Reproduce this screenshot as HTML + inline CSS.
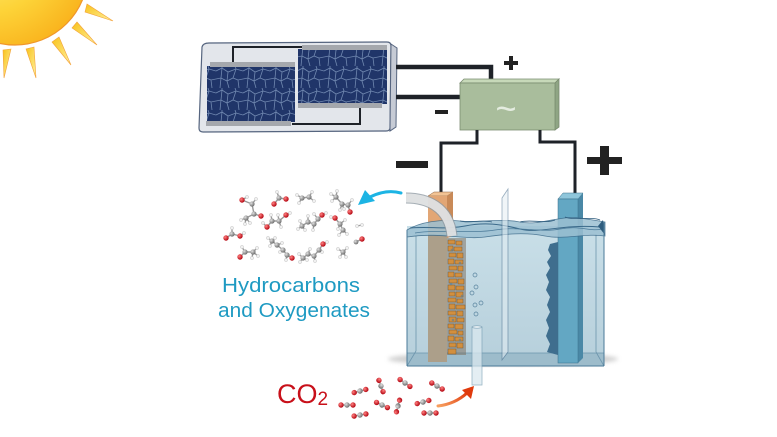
<!DOCTYPE html>
<html><head><meta charset="utf-8"><style>
html,body{margin:0;padding:0;background:#fff}
body{width:777px;height:437px;overflow:hidden}
svg{display:block}
.b{stroke:#9a9a9a;stroke-width:1.4;fill:none}
.c{fill:url(#gC)}.o{fill:url(#gO)}.h{fill:#f0f0f0;stroke:#b5b5b5;stroke-width:.4}
</style></head><body>
<svg width="777" height="437" viewBox="0 0 777 437" xmlns="http://www.w3.org/2000/svg">
<defs>
<radialGradient id="sun" cx="0.3" cy="0.3" r="0.8"><stop offset="0" stop-color="#fff48a"/><stop offset="0.6" stop-color="#fdd338"/><stop offset="1" stop-color="#f9b21c"/></radialGradient>
<linearGradient id="ray" x1="0" y1="0" x2="1" y2="1"><stop offset="0" stop-color="#f8c21a"/><stop offset="1" stop-color="#fff2a0"/></linearGradient>
<radialGradient id="gC" cx="0.35" cy="0.35" r="0.7"><stop offset="0" stop-color="#e0e0e0"/><stop offset="1" stop-color="#6a6a6a"/></radialGradient>
<radialGradient id="gO" cx="0.35" cy="0.35" r="0.7"><stop offset="0" stop-color="#ff8080"/><stop offset="1" stop-color="#b0000c"/></radialGradient>
<pattern id="cr" width="27" height="22" patternUnits="userSpaceOnUse">
<rect width="27" height="22" fill="#203569"/>
<path d="M0,5 L6,2 L12,6 L20,3 L27,5 M6,2 L6,0 M20,3 L19,0 M0,13 L5,12 L11,15 L17,12 L22,14 L27,13 M6,2 L5,12 M12,6 L11,15 M20,3 L17,12 M5,12 L4,22 M11,15 L13,22 M22,14 L23,22 M17,12 L22,14 M11,15 L17,12" stroke="#7088b0" stroke-width="0.8" fill="none"/>
</pattern>
<linearGradient id="water" x1="0" y1="0" x2="0" y2="1"><stop offset="0" stop-color="#c9dfe8"/><stop offset="1" stop-color="#b6cfdb"/></linearGradient>
<linearGradient id="oarr" x1="0" y1="1" x2="1" y2="0"><stop offset="0" stop-color="#f7a060"/><stop offset="1" stop-color="#e03a0c"/></linearGradient>
<filter id="blur"><feGaussianBlur stdDeviation="2"/></filter>
</defs>

<!-- Sun -->
<circle cx="15" cy="-28" r="73" fill="url(#sun)" stroke="#f0962a" stroke-width="1.2"/>
<g fill="url(#ray)" stroke="#f3a33a" stroke-width="0.6">
<polygon points="87,4 85,12 113,21"/>
<polygon points="77,22 72,28 97,45"/>
<polygon points="59,37 52,42 71,65"/>
<polygon points="34,47 26,49 36,78"/>
<polygon points="11,49 3,50 4,78"/>
</g>

<!-- Solar panel -->
<path d="M209,43 L387,42 Q391,42 391,46 L390,128 Q390,131 386,131 L203,132 Q199,132 199,128 L202,47 Q203,43 209,43 Z" fill="#e3e6eb" stroke="#56657f" stroke-width="1.2"/>
<polygon points="391,44 397,48 396,127 390,131" fill="#c6cbd5" stroke="#56657f" stroke-width="1"/>
<path d="M233,62 L233,47 L303,47" stroke="#1e2228" stroke-width="2" fill="none"/>
<path d="M292,124 L360,124 L360,108" stroke="#1e2228" stroke-width="2" fill="none"/>
<rect x="207" y="66" width="88" height="56" fill="url(#cr)"/>
<rect x="210" y="62" width="85" height="5" fill="#a5a8ad"/>
<rect x="206" y="121" width="85" height="5" fill="#a5a8ad"/>
<rect x="298" y="49" width="89" height="55" fill="url(#cr)"/>
<rect x="302" y="45" width="85" height="5" fill="#a5a8ad"/>
<rect x="298" y="103" width="84" height="5" fill="#a5a8ad"/>

<!-- wires panel->inverter -->
<path d="M396,67 L491,67 L491,80" stroke="#1e2228" stroke-width="4.5" fill="none"/>
<path d="M396,97 L462,97" stroke="#1e2228" stroke-width="4.5" fill="none"/>

<!-- Inverter -->
<polygon points="460,83 464,79 559,79 555,83" fill="#c7d9b9" stroke="#7a8c70" stroke-width="0.8"/>
<polygon points="555,83 559,79 559,127 555,130" fill="#8fa584" stroke="#7a8c70" stroke-width="0.8"/>
<rect x="460" y="83" width="95" height="47" fill="#a9bd9c" stroke="#7a8c70" stroke-width="0.8"/>
<text x="506" y="121" font-family="Liberation Sans, sans-serif" font-size="36" fill="#e4ece0" text-anchor="middle">~</text>
<rect x="504" y="61" width="14" height="4" fill="#222"/><rect x="509" y="56" width="4" height="14" fill="#222"/>
<rect x="435" y="110" width="13" height="4" fill="#222"/>

<!-- wires inverter->electrodes -->
<path d="M477,130 L477,143 L441,143 L441,194" stroke="#1e2228" stroke-width="3" fill="none"/>
<path d="M540,130 L540,142 L575,142 L575,195" stroke="#1e2228" stroke-width="3" fill="none"/>

<!-- big signs -->
<rect x="396" y="161" width="32" height="7" fill="#222"/>
<rect x="587" y="157" width="35" height="7" fill="#222"/><rect x="600" y="146" width="9" height="29" fill="#222"/>

<!-- tank shadow -->
<ellipse cx="503" cy="359" rx="115" ry="7" fill="#c4c4c4" filter="url(#blur)" opacity="0.8"/>

<!-- tank body -->
<rect x="407" y="226" width="197" height="140" fill="url(#water)"/>
<polygon points="407,353 604,353 604,366 407,366" fill="#9dbccb"/>
<line x1="407" y1="353" x2="604" y2="353" stroke="#6d96ad" stroke-width="0.8"/>
<line x1="416" y1="236" x2="416" y2="351" stroke="#6d96ad" stroke-width="0.8"/>
<line x1="596" y1="234" x2="596" y2="352" stroke="#6d96ad" stroke-width="0.8"/>
<line x1="407" y1="366" x2="416" y2="351" stroke="#6d96ad" stroke-width="0.8"/>
<line x1="604" y1="366" x2="596" y2="352" stroke="#6d96ad" stroke-width="0.8"/>

<!-- jagged deposit near right electrode -->
<path d="M558,242 L550,244 L548,250 L551,256 L547,262 L550,268 L546,275 L549,282 L546,290 L550,297 L547,305 L550,312 L546,320 L549,328 L546,336 L550,344 L547,352 L558,355 Z" fill="#3f6e8e"/>

<!-- left electrode -->
<polygon points="428,196 434,192 453,192 447,196" fill="#f2c394" stroke="#8a6040" stroke-width="0.5"/>
<polygon points="447,196 453,192 453,236 447,238" fill="#c98a58"/>
<rect x="428" y="196" width="19" height="40" fill="#e2a675"/>
<rect x="428" y="234" width="19" height="128" fill="#ac9f8a"/>
<!-- copper deposit blocks -->
<rect x="447" y="238" width="19" height="117" fill="#7a6a58" opacity="0.5"/>
<g fill="#d28f3e" stroke="#6a5030" stroke-width="0.4">
<rect x="448" y="240" width="7" height="4"/><rect x="456" y="241" width="6" height="4"/>
<rect x="448" y="246" width="5" height="5"/><rect x="454" y="247" width="8" height="4"/>
<rect x="449" y="253" width="7" height="4"/><rect x="457" y="253" width="6" height="5"/>
<rect x="448" y="259" width="6" height="5"/><rect x="455" y="260" width="8" height="4"/>
<rect x="449" y="266" width="8" height="4"/><rect x="458" y="266" width="5" height="5"/>
<rect x="448" y="272" width="6" height="5"/><rect x="455" y="273" width="7" height="4"/>
<rect x="449" y="279" width="8" height="4"/><rect x="458" y="279" width="6" height="5"/>
<rect x="448" y="285" width="7" height="5"/><rect x="456" y="286" width="8" height="4"/>
<rect x="449" y="292" width="6" height="4"/><rect x="456" y="292" width="7" height="5"/>
<rect x="448" y="298" width="8" height="4"/><rect x="457" y="299" width="6" height="4"/>
<rect x="449" y="304" width="6" height="5"/><rect x="456" y="305" width="9" height="4"/>
<rect x="448" y="311" width="8" height="4"/><rect x="457" y="311" width="6" height="5"/>
<rect x="449" y="317" width="7" height="5"/><rect x="457" y="318" width="7" height="4"/>
<rect x="448" y="324" width="6" height="4"/><rect x="455" y="324" width="8" height="5"/>
<rect x="449" y="330" width="8" height="4"/><rect x="458" y="331" width="5" height="4"/>
<rect x="448" y="336" width="6" height="5"/><rect x="455" y="337" width="8" height="4"/>
<rect x="449" y="343" width="7" height="4"/><rect x="457" y="343" width="6" height="5"/>
<rect x="448" y="349" width="8" height="5"/>
</g>
<g fill="none" stroke="#4a7a9e" stroke-width="0.5">
<circle cx="452" cy="250" r="1"/><circle cx="460" cy="263" r="1"/><circle cx="451" cy="284" r="1"/><circle cx="462" cy="296" r="1"/><circle cx="453" cy="320" r="1"/><circle cx="460" cy="340" r="1"/>
</g>

<!-- right electrode -->
<polygon points="558,199 563,193 583,193 578,199" fill="#8fc6db" stroke="#3a6f8a" stroke-width="0.5"/>
<polygon points="578,199 583,193 583,358 578,363" fill="#4a88a6"/>
<rect x="558" y="199" width="20" height="164" fill="#63a7c3" stroke="#3a6f8a" stroke-width="0.5"/>

<!-- bubbles -->
<g fill="none" stroke="#55809c" stroke-width="0.7">
<circle cx="475" cy="275" r="2"/><circle cx="476" cy="287" r="2"/><circle cx="472" cy="293" r="2"/><circle cx="475" cy="305" r="2"/><circle cx="481" cy="303" r="2"/><circle cx="476" cy="314" r="2"/>
</g>

<!-- water surface -->
<path d="M407,230 C420,222 440,219 460,221 S500,218 520,222 S560,215 580,218 S600,221 605,222 L605,236 C585,233 565,240 545,236 S505,234 485,237 S440,232 407,237 Z" fill="#9cc0d2" opacity="0.85" stroke="#3b6a8a" stroke-width="0.8"/>
<path d="M410,228 C430,226 445,230 465,226 S500,224 520,229 S560,224 600,227" stroke="#3b6a8a" stroke-width="1" fill="none"/>
<path d="M415,233 C440,229 470,234 495,230 S540,233 560,229 S590,232 602,229" stroke="#4d7c9a" stroke-width="0.7" fill="none"/>
<path d="M460,221 C470,224 480,219 492,222 M520,222 C530,219 545,224 555,220 M565,217 C575,221 590,216 600,220" stroke="#2f5d7e" stroke-width="0.8" fill="none"/>
<polygon points="598,226 603,220 605,235" fill="#2f5d7e"/>

<!-- tank outline -->
<line x1="407" y1="230" x2="407" y2="366" stroke="#4a7a98" stroke-width="1"/>
<line x1="604" y1="222" x2="604" y2="366" stroke="#4a7a98" stroke-width="1"/>
<line x1="407" y1="366" x2="604" y2="366" stroke="#4a7a98" stroke-width="1"/>

<!-- membrane -->
<polygon points="502,198 508,189 508,352 502,360" fill="#e4eef3" opacity="0.55" stroke="#44698a" stroke-width="0.8"/>

<!-- CO2 inlet tube -->
<rect x="472" y="327" width="10" height="58" fill="#dbe9f0" opacity="0.75" stroke="#7a9fb5" stroke-width="0.8"/>
<ellipse cx="477" cy="327" rx="5" ry="1.2" fill="#eef5f8" stroke="#7a9fb5" stroke-width="0.6"/>

<!-- outlet pipe -->
<path d="M406,198 C426,198 449,206 452,236" stroke="#8e9aa2" stroke-width="11" fill="none" opacity="0.8"/>
<path d="M406,198 C426,198 449,206 452,236" stroke="#eeeeee" stroke-width="9" fill="none" opacity="0.8"/>

<!-- cyan arrow -->
<path d="M401,193 Q386,189 370,197" stroke="#1cb4e4" stroke-width="3" fill="none" stroke-linecap="round"/>
<polygon points="358,205 365,190 375,201" fill="#1cb4e4"/>

<!-- molecules -->
<g>
<path class="b" d="M242,200 L252,204 L254,214 L261,216 M254,214 L246,218 M252,204 L256,199 M242,200 L247,197 M246,218 L241,220 M246,218 L245,224 M246,218 L250,223"/>
<circle class="h" cx="247" cy="197" r="1.6"/><circle class="h" cx="256" cy="199" r="1.6"/><circle class="h" cx="241" cy="220" r="1.6"/><circle class="h" cx="245" cy="224" r="1.6"/><circle class="h" cx="250" cy="223" r="1.6"/>
<circle class="o" cx="242" cy="200" r="2.7"/><circle class="c" cx="252" cy="204" r="2.6"/><circle class="c" cx="254" cy="214" r="2.6"/><circle class="o" cx="261" cy="216" r="2.7"/><circle class="c" cx="246" cy="218" r="2.6"/>

<path class="b" d="M274,204 L279,198 L286,199 M279,198 L277,192"/>
<circle class="h" cx="277" cy="192" r="1.6"/><circle class="o" cx="274" cy="204" r="2.7"/><circle class="c" cx="279" cy="198" r="2.6"/><circle class="o" cx="286" cy="199" r="2.7"/>

<path class="b" d="M302,198 L309,197 M302,198 L297,195 M302,198 L299,203 M309,197 L312,192 M309,197 L314,201"/>
<circle class="h" cx="297" cy="195" r="1.6"/><circle class="h" cx="299" cy="203" r="1.6"/><circle class="h" cx="312" cy="192" r="1.6"/><circle class="h" cx="314" cy="201" r="1.6"/>
<circle class="c" cx="302" cy="198" r="2.6"/><circle class="c" cx="309" cy="197" r="2.6"/>

<path class="b" d="M336,197 L342,204 L348,205 L350,212 M336,197 L331,194 M336,197 L337,191 M336,197 L332,201 M342,204 L340,210 M342,204 L344,209 M348,205 L352,200"/>
<circle class="h" cx="331" cy="194" r="1.6"/><circle class="h" cx="337" cy="191" r="1.6"/><circle class="h" cx="332" cy="201" r="1.6"/><circle class="h" cx="340" cy="210" r="1.6"/><circle class="h" cx="344" cy="209" r="1.6"/><circle class="h" cx="352" cy="200" r="1.6"/>
<circle class="c" cx="336" cy="197" r="2.6"/><circle class="c" cx="342" cy="204" r="2.6"/><circle class="c" cx="348" cy="205" r="2.6"/><circle class="o" cx="350" cy="212" r="2.7"/>

<path class="b" d="M267,227 L272,221 L279,221 L286,215 M267,227 L263,223 M272,221 L271,215 M279,221 L278,215 M279,221 L281,227 M286,215 L290,213"/>
<circle class="h" cx="263" cy="223" r="1.6"/><circle class="h" cx="271" cy="215" r="1.6"/><circle class="h" cx="278" cy="215" r="1.6"/><circle class="h" cx="281" cy="227" r="1.6"/><circle class="h" cx="290" cy="213" r="1.6"/>
<circle class="o" cx="267" cy="227" r="2.7"/><circle class="c" cx="272" cy="221" r="2.6"/><circle class="c" cx="279" cy="221" r="2.6"/><circle class="o" cx="286" cy="215" r="2.7"/>

<path class="b" d="M302,226 L308,222 L314,224 L318,219 L322,215 M302,226 L298,229 M302,226 L300,221 M302,226 L305,230 M308,222 L308,216 M314,224 L313,230 M318,219 L314,214 M322,215 L326,213"/>
<circle class="h" cx="298" cy="229" r="1.6"/><circle class="h" cx="300" cy="221" r="1.6"/><circle class="h" cx="305" cy="230" r="1.6"/><circle class="h" cx="308" cy="216" r="1.6"/><circle class="h" cx="313" cy="230" r="1.6"/><circle class="h" cx="314" cy="214" r="1.6"/><circle class="h" cx="326" cy="213" r="1.6"/>
<circle class="c" cx="302" cy="226" r="2.6"/><circle class="c" cx="308" cy="222" r="2.6"/><circle class="c" cx="314" cy="224" r="2.6"/><circle class="c" cx="318" cy="219" r="2.6"/><circle class="o" cx="322" cy="215" r="2.7"/>

<path class="b" d="M335,218 L340,224 L343,230 M335,218 L331,217 M340,224 L345,220 M340,224 L338,229 M343,230 L347,234 M343,230 L339,235"/>
<circle class="h" cx="331" cy="217" r="1.6"/><circle class="h" cx="345" cy="220" r="1.6"/><circle class="h" cx="338" cy="229" r="1.6"/><circle class="h" cx="347" cy="234" r="1.6"/><circle class="h" cx="339" cy="235" r="1.6"/>
<circle class="o" cx="335" cy="218" r="2.7"/><circle class="c" cx="340" cy="224" r="2.6"/><circle class="c" cx="343" cy="230" r="2.6"/>

<path class="b" d="M357,226 L362,225"/>
<circle class="h" cx="357" cy="226" r="1.6"/><circle class="h" cx="362" cy="225" r="1.6"/>

<path class="b" d="M226,238 L232,234 L240,236 M232,234 L232,228 M240,236 L244,233"/>
<circle class="h" cx="232" cy="228" r="1.6"/><circle class="h" cx="244" cy="233" r="1.6"/>
<circle class="o" cx="226" cy="238" r="2.7"/><circle class="c" cx="232" cy="234" r="2.6"/><circle class="o" cx="240" cy="236" r="2.7"/>

<path class="b" d="M356,242 L362,239"/>
<circle class="c" cx="356" cy="242" r="2.4"/><circle class="o" cx="362" cy="239" r="2.7"/>

<path class="b" d="M240,257 L245,252 L253,252 M245,252 L242,247 M253,252 L257,248 M253,252 L258,256 M253,252 L252,258"/>
<circle class="h" cx="242" cy="247" r="1.6"/><circle class="h" cx="257" cy="248" r="1.6"/><circle class="h" cx="258" cy="256" r="1.6"/><circle class="h" cx="252" cy="258" r="1.6"/>
<circle class="o" cx="240" cy="257" r="2.7"/><circle class="c" cx="245" cy="252" r="2.6"/><circle class="c" cx="253" cy="252" r="2.6"/>

<path class="b" d="M272,241 L277,245 L283,250 L287,255 L292,258 M272,241 L268,238 M272,241 L275,238 M272,241 L270,246 M283,250 L280,252 M277,245 L282,243 M287,255 L286,260"/>
<circle class="h" cx="268" cy="238" r="1.6"/><circle class="h" cx="275" cy="238" r="1.6"/><circle class="h" cx="270" cy="246" r="1.6"/><circle class="h" cx="280" cy="252" r="1.6"/><circle class="h" cx="282" cy="243" r="1.6"/><circle class="h" cx="286" cy="260" r="1.6"/>
<circle class="c" cx="272" cy="241" r="2.6"/><circle class="c" cx="277" cy="245" r="2.6"/><circle class="c" cx="283" cy="250" r="2.6"/><circle class="c" cx="287" cy="255" r="2.6"/><circle class="o" cx="292" cy="258" r="2.7"/>

<path class="b" d="M303,258 L308,254 L314,256 L319,250 L323,244 L327,242 M303,258 L300,262 M303,258 L299,254 M303,258 L307,260 M308,254 L310,249 M314,256 L315,261 M319,250 L322,252"/>
<circle class="h" cx="327" cy="242" r="1.6"/><circle class="h" cx="300" cy="262" r="1.6"/><circle class="h" cx="299" cy="254" r="1.6"/><circle class="h" cx="307" cy="260" r="1.6"/><circle class="h" cx="310" cy="249" r="1.6"/><circle class="h" cx="315" cy="261" r="1.6"/><circle class="h" cx="322" cy="252" r="1.6"/>
<circle class="c" cx="303" cy="258" r="2.6"/><circle class="c" cx="308" cy="254" r="2.6"/><circle class="c" cx="314" cy="256" r="2.6"/><circle class="c" cx="319" cy="250" r="2.6"/><circle class="o" cx="323" cy="244" r="2.7"/>

<path class="b" d="M343,252 L338,249 M343,252 L347,248 M343,252 L346,257 M343,252 L340,257"/>
<circle class="h" cx="338" cy="249" r="1.6"/><circle class="h" cx="347" cy="248" r="1.6"/><circle class="h" cx="346" cy="257" r="1.6"/><circle class="h" cx="340" cy="257" r="1.6"/>
<circle class="c" cx="343" cy="252" r="2.6"/>
</g>

<!-- labels -->
<text x="291" y="292" font-family="Liberation Sans, sans-serif" font-size="20" fill="#1e9ac2" text-anchor="middle" textLength="138" lengthAdjust="spacingAndGlyphs">Hydrocarbons</text>
<text x="294" y="317" font-family="Liberation Sans, sans-serif" font-size="20" fill="#1e9ac2" text-anchor="middle" textLength="152" lengthAdjust="spacingAndGlyphs">and Oxygenates</text>
<text x="277" y="403" font-family="Liberation Sans, sans-serif" font-size="27" fill="#c8101a">CO<tspan font-size="19" dy="2">2</tspan></text>

<!-- CO2 molecules -->
<g>
<g transform="translate(360,391) rotate(-15)"><line class="b" x1="-6" y1="0" x2="6" y2="0"/><circle class="o" cx="-6" cy="0" r="2.7"/><circle class="c" cx="0" cy="0" r="2.7"/><circle class="o" cx="6" cy="0" r="2.7"/></g>
<g transform="translate(381,386) rotate(70)"><line class="b" x1="-6" y1="0" x2="6" y2="0"/><circle class="o" cx="-6" cy="0" r="2.7"/><circle class="c" cx="0" cy="0" r="2.7"/><circle class="o" cx="6" cy="0" r="2.7"/></g>
<g transform="translate(405,383) rotate(35)"><line class="b" x1="-6" y1="0" x2="6" y2="0"/><circle class="o" cx="-6" cy="0" r="2.7"/><circle class="c" cx="0" cy="0" r="2.7"/><circle class="o" cx="6" cy="0" r="2.7"/></g>
<g transform="translate(437,386) rotate(30)"><line class="b" x1="-6" y1="0" x2="6" y2="0"/><circle class="o" cx="-6" cy="0" r="2.7"/><circle class="c" cx="0" cy="0" r="2.7"/><circle class="o" cx="6" cy="0" r="2.7"/></g>
<g transform="translate(347,405)"><line class="b" x1="-6" y1="0" x2="6" y2="0"/><circle class="o" cx="-6" cy="0" r="2.7"/><circle class="c" cx="0" cy="0" r="2.7"/><circle class="o" cx="6" cy="0" r="2.7"/></g>
<g transform="translate(382,405) rotate(25)"><line class="b" x1="-6" y1="0" x2="6" y2="0"/><circle class="o" cx="-6" cy="0" r="2.7"/><circle class="c" cx="0" cy="0" r="2.7"/><circle class="o" cx="6" cy="0" r="2.7"/></g>
<g transform="translate(398,406) rotate(-75)"><line class="b" x1="-6" y1="0" x2="6" y2="0"/><circle class="o" cx="-6" cy="0" r="2.7"/><circle class="c" cx="0" cy="0" r="2.7"/><circle class="o" cx="6" cy="0" r="2.7"/></g>
<g transform="translate(423,402) rotate(-15)"><line class="b" x1="-6" y1="0" x2="6" y2="0"/><circle class="o" cx="-6" cy="0" r="2.7"/><circle class="c" cx="0" cy="0" r="2.7"/><circle class="o" cx="6" cy="0" r="2.7"/></g>
<g transform="translate(360,415) rotate(-10)"><line class="b" x1="-6" y1="0" x2="6" y2="0"/><circle class="o" cx="-6" cy="0" r="2.7"/><circle class="c" cx="0" cy="0" r="2.7"/><circle class="o" cx="6" cy="0" r="2.7"/></g>
<g transform="translate(430,413)"><line class="b" x1="-6" y1="0" x2="6" y2="0"/><circle class="o" cx="-6" cy="0" r="2.7"/><circle class="c" cx="0" cy="0" r="2.7"/><circle class="o" cx="6" cy="0" r="2.7"/></g>
</g>

<!-- orange arrow -->
<path d="M438,406 Q455,404 467,393" stroke="url(#oarr)" stroke-width="3" fill="none" stroke-linecap="round"/>
<polygon points="474,386 462,390 471,399" fill="#e03a0c"/>
</svg>
</body></html>
